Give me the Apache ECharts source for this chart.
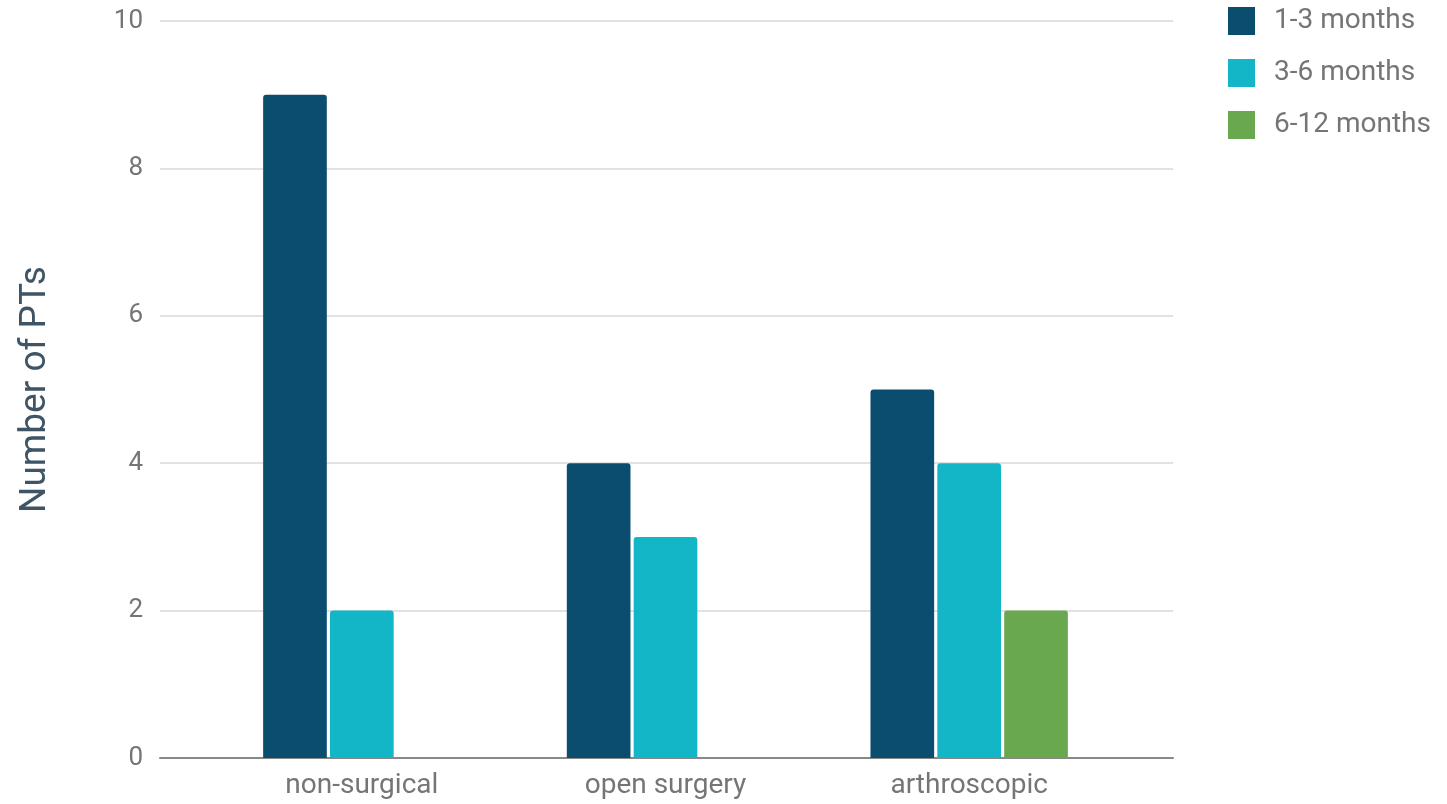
<!DOCTYPE html>
<html>
<head>
<meta charset="utf-8">
<script src="https://cdn.jsdelivr.net/npm/echarts@6/dist/echarts.min.js"></script>
<style>
  html, body { margin: 0; padding: 0; background: #fff; }
  #chart { width: 1447px; height: 804px; }
</style>
</head>
<body>
<div id="chart"></div>
<script>
// Treatment groups and patient counts per follow-up window
const categories = ['non-surgical', 'open surgery', 'arthroscopic'];
const seriesNames = ['1-3 months', '3-6 months', '6-12 months'];
const months1to3 = [9, 4, 5];
const months3to6 = [2, 3, 4];
const months6to12 = [0, 0, 2];
const yTicks = [0, 2, 4, 6, 8, 10];

const colors = ['#0b4d6e', '#13b6c6', '#6aa84f'];
const labelColor = '#757575';
const font = 'Roboto, "Noto Sans", sans-serif';

const chart = echarts.init(document.getElementById('chart'), null, { renderer: 'canvas' });

const valueAxisBase = {
  type: 'value',
  min: yTicks[0],
  max: yTicks[yTicks.length - 1],
  interval: yTicks[1] - yTicks[0]
};

chart.setOption({
  animation: false,
  backgroundColor: '#ffffff',
  textStyle: { fontFamily: font },
  color: colors,
  grid: [
    // full-width grid carrying the gridlines, tick labels and baseline
    { left: 160, right: 274, top: 21, bottom: 46 },
    // inner grid carrying the bar groups
    { left: 210, right: 326, top: 21, bottom: 46 }
  ],
  legend: {
    orient: 'vertical',
    left: 1228,
    top: 7,
    padding: 0,
    itemWidth: 27,
    itemHeight: 28,
    itemGap: 24,
    icon: 'rect',
    data: seriesNames,
    textStyle: { color: labelColor, fontSize: 28, fontFamily: font, padding: [0, 0, 0, 14] }
  },
  xAxis: [
    {
      gridIndex: 0,
      type: 'category',
      data: [''],
      axisLine: { show: true, lineStyle: { color: '#888888', width: 2 } },
      axisTick: { show: false },
      axisLabel: { show: false },
      splitLine: { show: false }
    },
    {
      gridIndex: 1,
      type: 'category',
      data: categories,
      axisLine: { show: false },
      axisTick: { show: false },
      axisLabel: { color: labelColor, fontSize: 28, margin: 14, fontFamily: font }
    }
  ],
  yAxis: [
    Object.assign({}, valueAxisBase, {
      gridIndex: 0,
      name: 'Number of PTs',
      nameLocation: 'middle',
      nameGap: 106,
      nameRotate: 90,
      nameTextStyle: { color: '#3f5565', fontSize: 37, fontFamily: font },
      axisLine: { show: false },
      axisTick: { show: false },
      axisLabel: { color: labelColor, fontSize: 26, margin: 17, fontFamily: font },
      splitLine: { show: true, lineStyle: { color: '#d9d9d9', width: 1.5 } }
    }),
    Object.assign({}, valueAxisBase, {
      gridIndex: 1,
      axisLine: { show: false },
      axisTick: { show: false },
      axisLabel: { show: false },
      splitLine: { show: false }
    })
  ],
  series: [months1to3, months3to6, months6to12].map((vals, i) => ({
    name: seriesNames[i],
    type: 'bar',
    xAxisIndex: 1,
    yAxisIndex: 1,
    data: vals,
    barGap: '5%',
    barCategoryGap: '35%',
    z: 3,
    itemStyle: { color: colors[i], borderRadius: [3, 3, 0, 0] }
  }))
});
</script>
</body>
</html>
